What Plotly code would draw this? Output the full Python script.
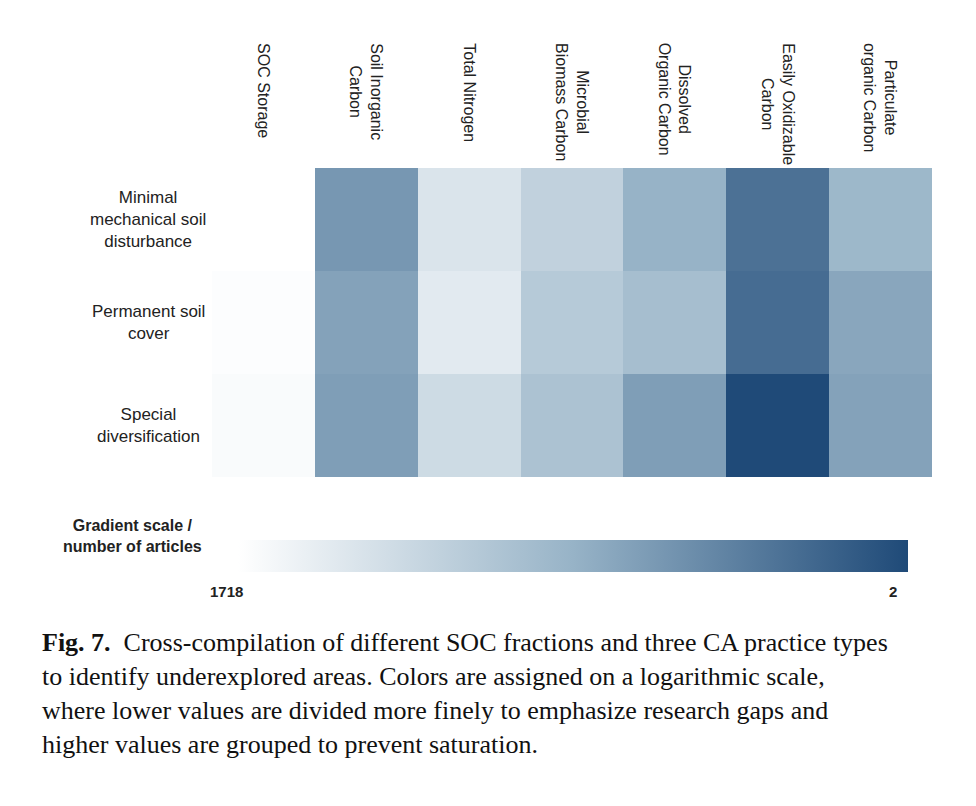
import numpy as np
import plotly.graph_objects as go

columns = ["SOC Storage", "Soil Inorganic<br>Carbon", "Total Nitrogen", "Microbial<br>Biomass Carbon",
           "Dissolved<br>Organic Carbon", "Easily Oxidizable<br>Carbon", "Particulate<br>organic Carbon"]
rows = ["Minimal<br>mechanical soil<br>disturbance", "Permanent soil<br>cover", "Special<br>diversification"]
counts_minimal = [1718, 24, 510, 226, 59, 7, 72]
counts_cover = [1572, 34, 680, 162, 94, 6, 39]
counts_divers = [1436, 30, 340, 115, 30, 2, 34]
scale_max, scale_min = 1718, 2

counts = np.array([counts_minimal, counts_cover, counts_divers], dtype=float)
t = np.log(scale_max / counts) / np.log(scale_max / scale_min)
xs = list(range(len(columns)))

W, H, DX, DY = 976, 806, 8, 7
def px(x): return (x - DX) / W
def py(y): return 1 - (y - DY) / H

fig = go.Figure(go.Heatmap(
    z=t, x=xs, y=list(range(len(rows))), customdata=counts,
    hovertemplate="%{customdata} articles<extra></extra>",
    zmin=0, zmax=1,
    colorscale=[[0, "#ffffff"], [0.5, "#97b3c7"], [1, "#1f4a78"]],
    colorbar=dict(orientation="h", x=px(573), xanchor="center", y=py(555), yanchor="middle",
                  len=690 / W, lenmode="fraction", thickness=32, outlinewidth=0,
                  showticklabels=False, ticks="")))

fig.update_layout(
    width=W, height=H, margin=dict(l=0, r=0, t=0, b=0),
    paper_bgcolor="white", plot_bgcolor="white",
    font=dict(family="Liberation Sans, Arial, sans-serif", color="#222"),
    xaxis=dict(domain=[px(212), px(932)], visible=False, range=[-0.5, 6.5]),
    yaxis=dict(domain=[py(476), py(167)], visible=False, range=[2.5, -0.5]),
)

anns = []
for i, c in enumerate(columns):
    anns.append(dict(x=i, xref="x", y=py(40), yref="paper", text=c, textangle=90,
                     showarrow=False, yanchor="top", xanchor="center", font=dict(size=16)))
for j, r in enumerate(rows):
    anns.append(dict(x=px(148), xref="paper", y=j, yref="y", text=r, showarrow=False,
                     xanchor="center", align="center", font=dict(size=17)))
anns += [
    dict(x=px(133), y=py(556), xref="paper", yref="paper", showarrow=False, align="center",
         xanchor="center", text="<b>Gradient scale /<br>number of articles</b>", font=dict(size=16)),
    dict(x=px(226), y=py(601), xref="paper", yref="paper", showarrow=False, xanchor="center",
         text=f"<b>{scale_max}</b>", font=dict(size=15)),
    dict(x=px(893), y=py(601), xref="paper", yref="paper", showarrow=False, xanchor="center",
         text=f"<b>{scale_min}</b>", font=dict(size=15)),
]
caption = ["<b>Fig. 7.</b>  Cross-compilation of different SOC fractions and three CA practice types",
           "to identify underexplored areas. Colors are assigned on a logarithmic scale,",
           "where lower values are divided more finely to emphasize research gaps and",
           "higher values are grouped to prevent saturation."]
for k, line in enumerate(caption):
    anns.append(dict(x=px(40), y=py(658 + 34 * k), xref="paper", yref="paper",
                     xanchor="left", showarrow=False, text=line,
                     font=dict(size=26, family="Liberation Serif, DejaVu Serif, serif", color="#111")))
fig.update_layout(annotations=anns)
fig.write_html("out.html")
